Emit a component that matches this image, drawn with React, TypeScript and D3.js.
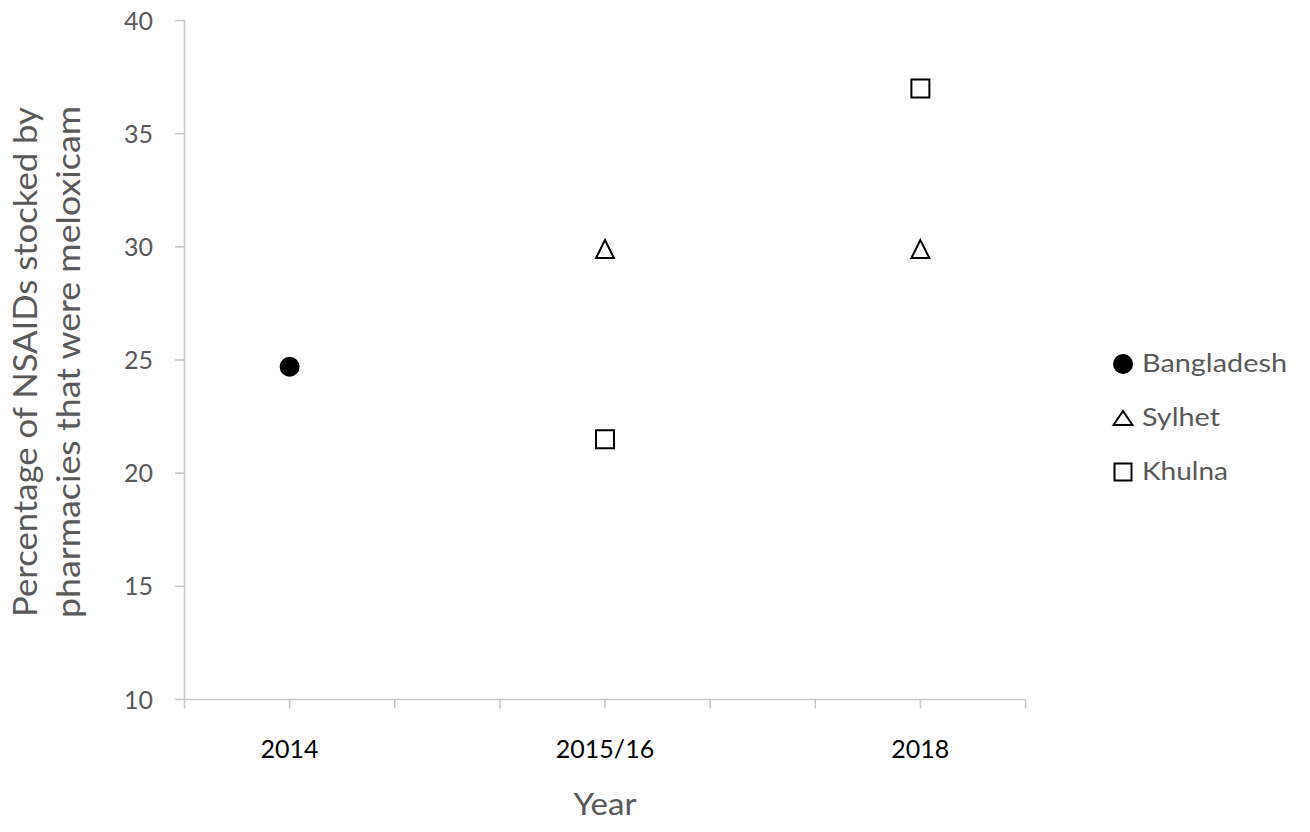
import React from "react";
import * as d3 from "d3";

const categories = ["2014", "2015/16", "2018"];
const categoryPos = [1, 4, 7];
const bangladesh = [{ cat: "2014", value: 24.7 }];
const sylhet = [
  { cat: "2015/16", value: 29.9 },
  { cat: "2018", value: 29.9 },
];
const khulna = [
  { cat: "2015/16", value: 21.5 },
  { cat: "2018", value: 37.0 },
];
const yTicks = [10, 15, 20, 25, 30, 35, 40];
const xTicks = [0, 1, 2, 3, 4, 5, 6, 7, 8];
const legendItems = ["Bangladesh", "Sylhet", "Khulna"];
const legendWidths = [145, 78, 86];

const FONT = "Lato, 'Open Sans', sans-serif";

function triPath(w: number, h: number) {
  return `M0,${-h / 2}L${w / 2},${h / 2}L${-w / 2},${h / 2}Z`;
}
function sqPath(s: number) {
  return `M${-s / 2},${-s / 2}H${s / 2}V${s / 2}H${-s / 2}Z`;
}

export default function App() {
  const W = 1310, H = 832;
  const x = d3.scaleLinear().domain([0, 8]).range([184.5, 1025.5]);
  const y = d3.scaleLinear().domain([10, 40]).range([699.5, 20.5]);
  const posOf = (c: string) => categoryPos[categories.indexOf(c)];
  const circ = d3.symbol().type(d3.symbolCircle).size(Math.PI * 100)()!;
  const tri = triPath(18, 18);
  const sq = sqPath(18);
  const legTri = triPath(19, 14);
  const legSq = sqPath(17);
  const axisColor = "#c8c8c8";
  const legendY = [364, 418, 472];
  const legendShapes = [circ, legTri, legSq];
  const legendFill = ["#000", "#fff", "#fff"];

  return (
    <svg width={W} height={H} style={{ position: "absolute", left: 0, top: 0 }}>
      <rect width={W} height={H} fill="#fff" />
      {/* Y axis */}
      <line x1={x(0)} x2={x(0)} y1={y(40)} y2={y(10)} stroke={axisColor} strokeWidth={1.6} />
      {yTicks.map((t) => (
        <g key={t}>
          <line x1={175} x2={x(0)} y1={y(t)} y2={y(t)} stroke={axisColor} strokeWidth={1.6} />
          <text x={153} y={y(t)} dy="0.36em" textAnchor="end" fontFamily={FONT} fontSize={25} fill="#595959">
            {t}
          </text>
        </g>
      ))}
      {/* X axis */}
      <line x1={x(0)} x2={x(8)} y1={y(10)} y2={y(10)} stroke={axisColor} strokeWidth={1.6} />
      {xTicks.map((t) => (
        <line key={t} x1={x(t)} x2={x(t)} y1={y(10)} y2={y(10) + 9} stroke={axisColor} strokeWidth={1.6} />
      ))}
      {categories.map((c, i) => (
        <text key={c} x={x(categoryPos[i])} y={758} textAnchor="middle" fontFamily={FONT} fontSize={25} fill="#000">
          {c}
        </text>
      ))}
      {/* Axis titles */}
      <text x={605} y={815} textAnchor="middle" fontFamily={FONT} fontSize={31} fill="#595959" textLength={63} lengthAdjust="spacingAndGlyphs">
        Year
      </text>
      <g transform="translate(37,362) rotate(-90)">
        <text x={0} y={0} textAnchor="middle" fontFamily={FONT} fontSize={33} fill="#595959" textLength={510} lengthAdjust="spacingAndGlyphs">
          Percentage of NSAIDs stocked by
        </text>
        <text x={0} y={43} textAnchor="middle" fontFamily={FONT} fontSize={33} fill="#595959" textLength={512} lengthAdjust="spacingAndGlyphs">
          pharmacies that were meloxicam
        </text>
      </g>
      {/* Points */}
      {bangladesh.map((d, i) => (
        <path key={"b" + i} d={circ} transform={`translate(${x(posOf(d.cat))},${y(d.value)})`} fill="#000" />
      ))}
      {sylhet.map((d, i) => (
        <path key={"s" + i} d={tri} transform={`translate(${x(posOf(d.cat))},${y(d.value)})`} fill="#fff" stroke="#000" strokeWidth={2} strokeLinejoin="miter" />
      ))}
      {khulna.map((d, i) => (
        <path key={"k" + i} d={sq} transform={`translate(${x(posOf(d.cat))},${y(d.value)})`} fill="#fff" stroke="#000" strokeWidth={2} />
      ))}
      {/* Legend */}
      {legendItems.map((name, i) => (
        <g key={name} transform={`translate(1123,${legendY[i]})`}>
          <path d={legendShapes[i]} fill={legendFill[i]} stroke={i === 0 ? "none" : "#000"} strokeWidth={2} />
          <text x={19} y={0} dy="0.33em" fontFamily={FONT} fontSize={25} fill="#595959" textLength={legendWidths[i]} lengthAdjust="spacingAndGlyphs">
            {name}
          </text>
        </g>
      ))}
    </svg>
  );
}
